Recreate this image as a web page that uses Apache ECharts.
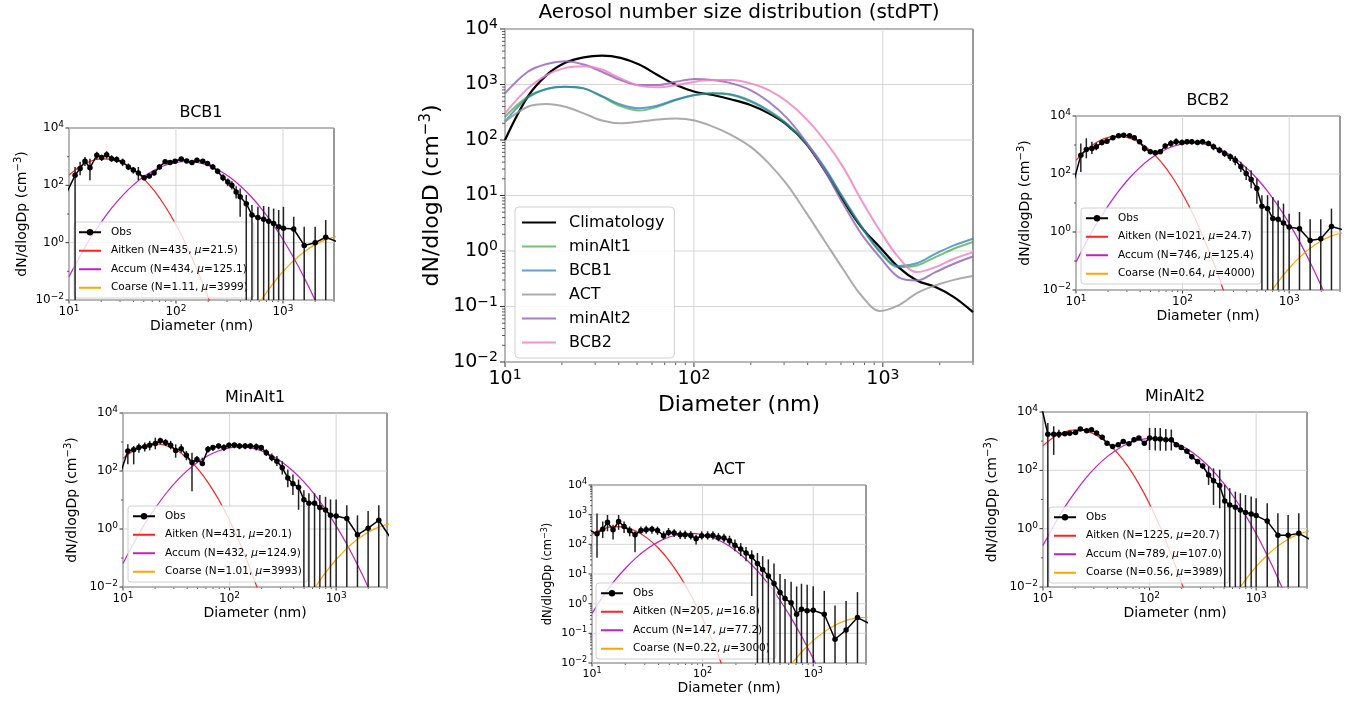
<!DOCTYPE html>
<html>
<head>
<meta charset="utf-8">
<script src="https://cdn.jsdelivr.net/npm/echarts@6.0.0/dist/echarts.min.js"></script>
<style>html,body{margin:0;padding:0;background:#fff;}#c{width:1347px;height:701px;}</style>
</head>
<body>
<div id="c"></div>
<script>
// ---------------- DATA ----------------
// Centre panel: fitted size distributions (diameter in nm, dN/dlogD in cm^-3)
const CENTER_D = [10, 13.2, 16.6, 20.8, 26.1, 32.6, 40.9, 51.3, 64.2, 80.5, 101, 126, 158, 199, 249, 312, 391, 490, 614, 769, 964, 1208, 1514, 1897, 2377, 3000];
const C_CLIMATOLOGY = [100, 603, 1479, 2455, 3090, 3311, 3020, 2291, 1479, 977, 741, 646, 537, 427, 302, 186, 87.1, 28.8, 8.32, 2.69, 1.17, 0.513, 0.295, 0.224, 0.148, 0.0794];
const C_MINALT1 = [263, 603, 832, 912, 851, 603, 407, 339, 398, 525, 646, 692, 646, 490, 324, 186, 87.1, 30.9, 8.91, 2.69, 0.955, 0.513, 0.550, 0.776, 1.10, 1.45];
const C_BCB1 = [214, 575, 832, 912, 851, 617, 437, 372, 417, 537, 646, 692, 661, 513, 339, 195, 91.2, 32.4, 9.33, 2.82, 1.0, 0.537, 0.603, 0.891, 1.26, 1.66];
const C_ACT = [214, 398, 447, 398, 302, 224, 200, 214, 234, 245, 224, 174, 123, 75.9, 38.0, 15.5, 5.01, 1.55, 0.479, 0.158, 0.0832, 0.105, 0.174, 0.240, 0.302, 0.355];
const C_MINALT2 = [692, 1698, 2344, 2630, 2291, 1698, 1202, 977, 977, 1122, 1259, 1202, 1047, 794, 490, 245, 93.3, 28.8, 7.24, 2.04, 0.776, 0.339, 0.295, 0.417, 0.589, 0.794];
const C_BCB2 = [302, 851, 1479, 1995, 2138, 1862, 1288, 955, 891, 977, 1122, 1202, 1202, 1047, 794, 490, 245, 100, 33.1, 8.32, 2.34, 0.776, 0.417, 0.513, 0.724, 0.955];
const CENTER_NAMES = ['Climatology', 'minAlt1', 'BCB1', 'ACT', 'minAlt2', 'BCB2'];

// Mode fits (diameter grid for fitted curves)
const FIT_D = [10, 12.6, 15.8, 20, 25.1, 31.6, 39.8, 50.1, 63.1, 79.4, 100, 126, 158, 200, 251, 316, 398, 501, 631, 794, 1000, 1259, 1585, 1995, 2512, 3162];
const COARSE_D = [398, 501, 631, 794, 1000, 1259, 1585, 1995, 2512, 3162];

// BCB1
const BCB1_OBS_D = [9.5, 11.4, 12.7, 14.1, 15.7, 18.2, 20.2, 22.5, 25, 27.9, 31.7, 35.9, 39.9, 44.5, 50.4, 56.3, 62.4, 70, 79.2, 88, 98, 112, 126, 141, 157, 178, 197, 221, 245, 275, 305, 333, 365, 398, 454, 513, 583, 660, 735, 818, 912, 1010, 1260, 1580, 2000, 2510, 3160];
const BCB1_OBS = [55, 224, 390, 690, 410, 1120, 930, 1170, 850, 790, 650, 440, 340, 270, 185, 210, 270, 440, 660, 620, 690, 830, 700, 620, 750, 690, 580, 440, 310, 185, 131, 100, 59, 40, 23, 9.2, 7.6, 6.6, 5.6, 4.7, 3.6, 3.2, 3.0, 0.8, 1.0, 1.55, 1.1];
const BCB1_HI = [null, 437, 661, 977, 851, 1479, 1175, 1549, 1122, 1023, 851, 575, 437, 437, 224, 257, 339, 550, 794, 759, 832, 977, 832, 759, 912, 832, 692, 550, 389, 245, 174, 138, 93, 78, 46, 20.4, 17.8, 19, 17.8, 15.5, 13.8, 17.8, 8.0, 3.6, 3.6, 6.2, null];
const BCB1_LO = [null, 0, 224, 468, 151, 794, 708, 851, 661, 603, 468, 339, 257, 151, 151, 174, 224, 355, 550, 525, 575, 692, 603, 513, 617, 575, 479, 355, 245, 138, 93, 72, 35, 8, 0, 0, 0, 0, 0, 0, 0, 0, 0, 0, 0, 0, null];
const BCB1_AITKEN = [229, 447, 689, 838, 802, 605, 361, 169, 62.7, 18.2, 4.2, 0.76, 0.109, 0.0123, 0.0011, 7.6e-5];
const BCB1_ACCUM = [0.0652, 0.326, 1.40, 5.14, 16.2, 43.9, 102, 202, 345, 504, 632, 679, 627, 494, 335, 195, 97, 41.5, 15.2, 4.78, 1.29, 0.297, 0.0589, 0.0100, 0.00146, 1.8e-4];
const BCB1_COARSE = [5.8e-4, 2.64e-3, 0.0103, 0.0344, 0.0975, 0.236, 0.486, 0.853, 1.28, 1.63];
const BCB1_LABELS = ['Aitken (N=435, μ=21.5)', 'Accum (N=434, μ=125.1)', 'Coarse (N=1.11, μ=3999)'];

// BCB2
const BCB2_OBS_D = [8.9, 11.1, 12.5, 14.1, 15.5, 17.5, 19.5, 22.2, 25.1, 28, 31.8, 35.2, 39.5, 44, 49.8, 55.5, 61.7, 68.7, 77.6, 87, 98.6, 110, 122, 138, 154, 175, 195, 222, 248, 280, 312, 352, 395, 440, 498, 555, 627, 703, 788, 885, 1000, 1250, 1574, 1980, 2495, 3160];
const BCB2_OBS = [22, 447, 700, 760, 870, 1230, 1350, 1780, 2090, 2190, 2090, 1780, 1290, 760, 590, 540, 590, 920, 1120, 1290, 1230, 1290, 1290, 1230, 1290, 1120, 870, 660, 510, 390, 300, 178, 105, 65, 31.6, 7.8, 6.5, 2.9, 2.75, 2.04, 1.48, 1.29, 0.51, 0.59, 1.55, 1.2];
const BCB2_HI = [null, 1122, 1698, 1288, 1202, 1549, 1698, 2188, 2512, 2630, 2512, 2138, 1549, 1000, 708, 631, 708, 1122, 1479, 1698, 1549, 1585, 1585, 1514, 1585, 1413, 1122, 871, 661, 513, 417, 263, 178, 135, 69, 18.6, 18.6, 16.2, 12.3, 9.5, 4.3, 4.9, 2.75, 2.75, 6.4, null];
const BCB2_LO = [null, 117, 347, 490, 661, 977, 1122, 1479, 1778, 1820, 1738, 1479, 1072, 589, 490, 447, 490, 741, 871, 1000, 977, 1047, 1047, 1000, 1047, 912, 661, 513, 389, 282, 200, 117, 62, 32, 9.5, 0, 0, 0, 0, 0, 0, 0, 0, 0, 0, null];
const BCB2_AITKEN = [296, 697, 1279, 1828, 2037, 1766, 1191, 627, 257, 82, 20.4, 3.94, 0.596, 0.0698, 0.00638, 4.5e-4];
const BCB2_ACCUM = [0.0918, 0.476, 2.11, 7.98, 25.8, 71.3, 169, 340, 588, 867, 1094, 1180, 1089, 857, 577, 332, 163, 68.7, 24.7, 7.59, 1.99, 0.447, 0.0857, 0.0141, 0.00197, 2.4e-4];
const BCB2_COARSE = [3.3e-4, 0.00152, 0.00596, 0.0198, 0.0562, 0.136, 0.281, 0.492, 0.736, 0.94];
const BCB2_LABELS = ['Aitken (N=1021, μ=24.7)', 'Accum (N=746, μ=125.4)', 'Coarse (N=0.64, μ=4000)'];

// MinAlt1
const MINALT1_OBS_D = [8.9, 11.1, 12.6, 14.1, 16, 17.8, 20.1, 22.4, 25.1, 28, 31.2, 35.2, 39.3, 44.4, 49.4, 55.5, 62.7, 69.8, 78.9, 88.5, 98.6, 111, 124, 140, 157, 178, 198, 221, 249, 278, 312, 352, 393, 444, 498, 555, 627, 703, 795, 885, 1000, 1259, 1585, 1995, 2512, 3162];
const MINALT1_OBS = [42, 490, 537, 646, 690, 776, 890, 1100, 955, 776, 513, 590, 347, 195, 251, 182, 562, 646, 724, 646, 776, 794, 724, 724, 724, 690, 646, 427, 288, 219, 129, 57.5, 36, 27.6, 10.3, 7.8, 7.8, 5.5, 4.5, 3.0, 2.8, 2.3, 0.63, 1.07, 2.0, 0.56];
const MINALT1_HI = [null, 832, 724, 891, 955, 1096, 1413, 1413, 1259, 1096, 832, 832, 490, 427, 331, 288, 724, 794, 891, 832, 955, 955, 912, 912, 912, 891, 794, 562, 398, 331, 219, 112, 76, 51, 21.9, 17, 17, 14.8, 12.9, 10.5, 10.5, 6.6, 2.95, 4.2, 6.6, null];
const MINALT1_LO = [null, 170, 170, 427, 468, 513, 562, 832, 724, 562, 288, 427, 234, 20, 195, 148, 427, 490, 562, 490, 603, 603, 562, 562, 562, 513, 490, 331, 219, 148, 76, 27.5, 15, 4.6, 0, 0, 0, 0, 0, 0, 0, 0, 0, 0, 0, null];
const MINALT1_AITKEN = [273, 513, 752, 859, 764, 528, 285, 120, 39.2, 10, 1.98, 0.306, 0.0369, 0.00346, 2.5e-4];
const MINALT1_ACCUM = [0.0649, 0.324, 1.39, 5.11, 16.1, 43.7, 101, 201, 343, 501, 629, 676, 624, 492, 333, 194, 96.5, 41.3, 15.1, 4.76, 1.28, 0.296, 0.0586, 0.00995, 0.00145, 1.8e-4];
const MINALT1_COARSE = [5.3e-4, 0.0024, 0.0094, 0.0313, 0.0887, 0.215, 0.442, 0.776, 1.165, 1.48];
const MINALT1_LABELS = ['Aitken (N=431, μ=20.1)', 'Accum (N=432, μ=124.9)', 'Coarse (N=1.01, μ=3993)'];

// ACT
const ACT_OBS_D = [8.9, 11.1, 12.5, 13.8, 15.5, 17.4, 19.5, 21.9, 24.5, 27.7, 30.9, 34.8, 39.1, 44.4, 49.2, 55.3, 62.7, 69.5, 78.2, 87.3, 98.2, 111, 124, 139, 156, 175, 196, 221, 247, 278, 313, 349, 393, 442, 501, 556, 631, 708, 783, 881, 1000, 1259, 1574, 1982, 2512, 3162];
const ACT_OBS = [330, 229, 324, 550, 309, 590, 398, 288, 209, 295, 309, 324, 295, 195, 251, 240, 209, 209, 200, 155, 195, 195, 200, 170, 162, 132, 93, 69, 51, 38, 22.4, 14.1, 8.5, 4.8, 2.4, 1.48, 1.07, 0.44, 0.65, 0.58, 0.60, 0.44, 0.063, 0.13, 0.34, 0.22];
const ACT_HI = [null, 1100, 589, 977, 457, 977, 589, 398, 275, 398, 427, 427, 398, 275, 355, 324, 295, 295, 275, 209, 275, 275, 275, 240, 229, 195, 145, 110, 81, 63, 51, 40, 31, 22.4, 10, 6.8, 5.5, 3.8, 4.7, 4.3, 3.9, 2.7, 0.87, 1.23, 2.45, null];
const ACT_LO = [null, 35, 162, 275, 145, 309, 240, 186, 54, 229, 229, 229, 209, 145, 186, 178, 151, 151, 145, 98, 145, 145, 145, 126, 117, 91, 59, 40, 27, 1.8, 0, 0, 0, 0, 0, 0, 0, 0, 0, 0, 0, 0, 0, 0, 0, null];
const ACT_AITKEN = [219, 331, 396, 373, 277, 162, 75, 27.2, 7.82, 1.77, 0.315, 0.0443, 0.0049, 4.3e-4];
const ACT_ACCUM = [0.469, 1.75, 5.61, 15.3, 35.7, 71.1, 121, 176, 219, 233, 211, 163, 108, 61.2, 29.6, 12.2, 4.31, 1.30, 0.333, 0.0735, 0.0138, 0.00221, 3.0e-4];
const ACT_COARSE = [7.5e-4, 0.0028, 0.00897, 0.0244, 0.0569, 0.112, 0.190, 0.273, 0.334, 0.349];
const ACT_LABELS = ['Aitken (N=205, μ=16.8)', 'Accum (N=147, μ=77.2)', 'Coarse (N=0.22, μ=3000)'];

// MinAlt2
const MINALT2_OBS_D = [8.9, 11.1, 12.6, 14.1, 16, 17.8, 20.2, 22.4, 25.7, 28.5, 31.8, 35.9, 39.9, 45, 50.8, 56.6, 64.1, 71.5, 79.4, 89.3, 100, 113, 126, 142, 160, 178, 198, 224, 249, 282, 315, 358, 398, 455, 507, 565, 638, 711, 794, 898, 1000, 1270, 1600, 1995, 2512, 3162];
const MINALT2_OBS = [60000, 1740, 1740, 1740, 1780, 1860, 2000, 2630, 2290, 2450, 1900, 1350, 850, 660, 760, 977, 813, 1120, 1290, 850, 1290, 1200, 1175, 1120, 1120, 760, 603, 447, 295, 200, 141, 69, 43.6, 30.2, 8.9, 6.5, 5.4, 4.4, 3.6, 3.2, 2.8, 1.82, 0.60, 0.60, 0.69, 0.44];
const MINALT2_HI = [null, 4170, 3236, 2450, 2100, 2150, 2300, 3000, 2650, 2800, 2200, 1600, 1000, 780, 900, 1150, 950, 1300, 1500, 1000, 2818, 2818, 2818, 2600, 2500, 900, 720, 540, 360, 245, 175, 135, 117, 105, 31.6, 24.5, 18.6, 16.3, 14.3, 12.6, 11, 7.4, 3.4, 2.95, 3.4, null];
const MINALT2_LO = [null, 0, 339, 1290, 1500, 1600, 1700, 2300, 1950, 2100, 1600, 1130, 720, 560, 640, 820, 690, 950, 1100, 720, 500, 480, 470, 470, 480, 640, 500, 370, 240, 160, 110, 31.6, 6.5, 5, 0, 0, 0, 0, 0, 0, 0, 0, 0, 0, 0, null];
const MINALT2_AITKEN = [702, 1365, 2065, 2438, 2239, 1600, 891, 387, 131, 34.4, 7.06, 1.13, 0.14, 0.0136, 0.00102, 6e-5];
const MINALT2_ACCUM = [0.264, 1.26, 5.16, 17.9, 53.2, 134, 289, 530, 828, 1102, 1250, 1208, 995, 700, 419, 213, 92.7, 34.4, 10.8, 2.92, 0.668, 0.130, 0.0217, 0.00308, 3.7e-4];
const MINALT2_COARSE = [3e-4, 0.00135, 0.00527, 0.0175, 0.0497, 0.12, 0.247, 0.433, 0.647, 0.824];
const MINALT2_LABELS = ['Aitken (N=1225, μ=20.7)', 'Accum (N=789, μ=107.0)', 'Coarse (N=0.56, μ=3989)'];

// ---------------- BUILD ----------------
const FONT = 'DejaVu Sans';
function pairs(xs, ys) {
  const out = [];
  const n = Math.min(xs.length, ys.length);
  for (let i = 0; i < n; i++) if (ys[i] != null) out.push([xs[i], ys[i]]);
  return out;
}
function supTxt(e) { return e < 0 ? '\u2212' + (-e) : '' + e; }
function powFormatter(step) {
  return function (v) {
    const l = Math.log10(v), e = Math.round(l);
    if (Math.abs(l - e) > 1e-6) return '';
    if (((e % step) + step) % step !== 0) return '';
    return '{b|10}{s|' + supTxt(e) + '}';
  };
}
function richFor(size) {
  return {
    b: { fontSize: size, fontFamily: FONT, color: '#000', lineHeight: size + 4 },
    s: { fontSize: Math.round(size * 0.72), fontFamily: FONT, color: '#000', verticalAlign: 'top', lineHeight: Math.round(size * 0.8) }
  };
}
function line(x1, y1, x2, y2, c, w) {
  return { type: 'line', shape: { x1: x1, y1: y1, x2: x2, y2: y2 }, style: { stroke: c, lineWidth: w } };
}
// Axis decorations: gridlines + ticks (matplotlib-like log ticks)
function decoData(yStep, yMinorSubs) {
  const d = [];
  [10, 100, 1000].forEach(v => d.push([v, 1, 1]));
  for (let e = 1; e <= 3; e++) for (let m = 2; m <= 9; m++) { const v = m * Math.pow(10, e); if (v <= 3000) d.push([v, 1, 2]); }
  for (let e = -2; e <= 4; e++) {
    const v = Math.pow(10, e);
    if (((e % yStep) + yStep) % yStep === 0) d.push([10, v, 3]); else d.push([10, v, 4]);
    if (yMinorSubs && e < 4) for (let m = 2; m <= 9; m++) d.push([10, m * v, 4]);
  }
  return d;
}
function decoRender(majLen, minLen) {
  return function (params, api) {
    const cs = params.coordSys;
    const L = cs.x, T = cs.y, R = cs.x + cs.width, B = cs.y + cs.height;
    const f = api.value(2);
    const p = api.coord([api.value(0), api.value(1)]);
    const ch = [];
    if (f === 1) { ch.push(line(p[0], T, p[0], B, '#d6d6d6', 1)); ch.push(line(p[0], B, p[0], B + majLen, '#333', 1)); }
    else if (f === 2) { ch.push(line(p[0], B, p[0], B + minLen, '#333', 0.8)); }
    else if (f === 3) { ch.push(line(L, p[1], R, p[1], '#d6d6d6', 1)); ch.push(line(L - majLen, p[1], L, p[1], '#333', 1)); }
    else { ch.push(line(L - minLen, p[1], L, p[1], '#333', 0.8)); }
    return { type: 'group', children: ch };
  };
}
function errRender(params, api) {
  const cs = params.coordSys;
  const x = api.value(0), lo = api.value(1), hi = api.value(2);
  const pt = api.coord([x, hi]);
  const xx = pt[0];
  if (xx < cs.x - 0.5 || xx > cs.x + cs.width + 0.5) return null;
  let yTop = Math.max(pt[1], cs.y);
  let yBot = lo > 0 ? api.coord([x, lo])[1] : cs.y + cs.height;
  yBot = Math.min(yBot, cs.y + cs.height);
  if (yBot <= yTop) return null;
  return line(xx, yTop, xx, yBot, '#222', 1.5);
}

const option = {
  animation: false, backgroundColor: '#fff', textStyle: { fontFamily: FONT },
  title: [], grid: [], xAxis: [], yAxis: [], series: [], legend: []
};

function addAxes(gi, cfg) {
  option.grid.push({ left: cfg.left, top: cfg.top, width: cfg.width, height: cfg.height, show: true, borderColor: '#333', borderWidth: 1, backgroundColor: 'transparent', containLabel: false });
  option.xAxis.push({
    type: 'log', logBase: 10, min: 10, max: 3000, gridIndex: gi,
    axisLine: { show: false }, axisTick: { show: false }, splitLine: { show: false }, minorTick: { show: false },
    axisLabel: { formatter: powFormatter(1), rich: richFor(cfg.tickFont), margin: cfg.xLabelMargin, color: '#000' },
    name: 'Diameter (nm)', nameLocation: 'middle', nameGap: cfg.xNameGap,
    nameTextStyle: { fontSize: cfg.labelFont, fontFamily: FONT, color: '#000' }
  });
  option.yAxis.push({
    type: 'log', logBase: 10, min: 0.01, max: 10000, gridIndex: gi,
    axisLine: { show: false }, axisTick: { show: false }, splitLine: { show: false }, minorTick: { show: false },
    axisLabel: { formatter: powFormatter(cfg.yStep), rich: richFor(cfg.tickFont), margin: cfg.yLabelMargin, color: '#000' },
    name: cfg.yName, nameLocation: 'middle', nameGap: cfg.yNameGap,
    nameTextStyle: { fontSize: cfg.yLabelFont, fontFamily: FONT, color: '#000', lineHeight: cfg.yLabelFont + 4,
      rich: { s: { fontSize: Math.round(cfg.yLabelFont * 0.7), fontFamily: FONT, color: '#000', verticalAlign: 'top', lineHeight: Math.round(cfg.yLabelFont * 0.75) } } }
  });
  option.series.push({
    type: 'custom', xAxisIndex: gi, yAxisIndex: gi, silent: true, z: 1,
    data: decoData(cfg.yStep, cfg.yMinorSubs), encode: { x: 0, y: 1 },
    renderItem: decoRender(cfg.majLen, cfg.minLen)
  });
  option.title.push({ text: cfg.title, left: cfg.titleX, top: cfg.titleY, textAlign: 'center', padding: 0,
    textStyle: { fontSize: cfg.titleFont, fontWeight: 'normal', fontFamily: FONT, color: '#000' } });
}

// ---- centre panel ----
const centerCfg = { left: 505, top: 29, width: 468, height: 333, tickFont: 19, labelFont: 22, yLabelFont: 22, yStep: 1, yMinorSubs: true,
  xLabelMargin: 6, yLabelMargin: 7, xNameGap: 32, yNameGap: 60, majLen: 5, minLen: 3,
  yName: 'dN/dlogD (cm{s|\u22123})', title: 'Aerosol number size distribution (stdPT)', titleX: 739, titleY: 3, titleFont: 20 };
addAxes(0, centerCfg);
const CENTER_SERIES = [C_CLIMATOLOGY, C_MINALT1, C_BCB1, C_ACT, C_MINALT2, C_BCB2];
const CENTER_COLORS = ['#000000', 'rgba(44,160,44,0.65)', 'rgba(31,119,180,0.7)', 'rgba(150,150,150,0.8)', 'rgba(148,103,189,0.85)', 'rgba(240,130,200,0.85)'];
CENTER_SERIES.forEach((arr, k) => {
  option.series.push({
    type: 'line', name: CENTER_NAMES[k], xAxisIndex: 0, yAxisIndex: 0, data: pairs(CENTER_D, arr),
    symbol: 'none', smooth: 0.35, z: 3 + k, clip: true,
    lineStyle: { color: CENTER_COLORS[k], width: k === 0 ? 2.2 : 2 }, itemStyle: { color: CENTER_COLORS[k] }
  });
});
option.legend.push({
  data: CENTER_NAMES.map(n => ({ name: n, itemStyle: { opacity: 0 } })), orient: 'vertical', left: 515, top: 207, itemWidth: 34, itemHeight: 12, itemGap: 5,
  padding: [6, 10, 6, 6], backgroundColor: 'rgba(255,255,255,0.85)', borderColor: '#d0d0d0', borderWidth: 1, borderRadius: 4,
  textStyle: { fontSize: 16, fontFamily: FONT, color: '#000', lineHeight: 19, padding: [0, 0, 0, 8] }
});

// ---- sub panels ----
const PANELS = [
  { title: 'BCB1', left: 69, top: 128, width: 265, height: 172, titleX: 201, titleY: 105, yStep: 2, tickFont: 12, labelFont: 14, yLabelFont: 14,
    yNameGap: 36, xNameGap: 16, legendPos: [74, 222],
    d: BCB1_OBS_D, y: BCB1_OBS, lo: BCB1_LO, hi: BCB1_HI, ait: BCB1_AITKEN, acc: BCB1_ACCUM, coa: BCB1_COARSE, labels: BCB1_LABELS },
  { title: 'BCB2', left: 1076, top: 116, width: 264, height: 174, titleX: 1208, titleY: 93, yStep: 2, tickFont: 12, labelFont: 14, yLabelFont: 14,
    yNameGap: 42, xNameGap: 16, legendPos: [1081, 208],
    d: BCB2_OBS_D, y: BCB2_OBS, lo: BCB2_LO, hi: BCB2_HI, ait: BCB2_AITKEN, acc: BCB2_ACCUM, coa: BCB2_COARSE, labels: BCB2_LABELS },
  { title: 'MinAlt1', left: 123, top: 413, width: 264, height: 174, titleX: 255, titleY: 390, yStep: 2, tickFont: 12, labelFont: 14, yLabelFont: 14,
    yNameGap: 42, xNameGap: 16, legendPos: [128, 506],
    d: MINALT1_OBS_D, y: MINALT1_OBS, lo: MINALT1_LO, hi: MINALT1_HI, ait: MINALT1_AITKEN, acc: MINALT1_ACCUM, coa: MINALT1_COARSE, labels: MINALT1_LABELS },
  { title: 'ACT', left: 592, top: 485, width: 274, height: 178, titleX: 729, titleY: 462, yStep: 1, yMinorSubs: true, tickFont: 11, labelFont: 14, yLabelFont: 11.5,
    yNameGap: 36, xNameGap: 15, legendPos: [596, 583],
    d: ACT_OBS_D, y: ACT_OBS, lo: ACT_LO, hi: ACT_HI, ait: ACT_AITKEN, acc: ACT_ACCUM, coa: ACT_COARSE, labels: ACT_LABELS },
  { title: 'MinAlt2', left: 1043, top: 412, width: 264, height: 175, titleX: 1175, titleY: 389, yStep: 2, tickFont: 12, labelFont: 14, yLabelFont: 14,
    yNameGap: 42, xNameGap: 16, legendPos: [1049, 507],
    d: MINALT2_OBS_D, y: MINALT2_OBS, lo: MINALT2_LO, hi: MINALT2_HI, ait: MINALT2_AITKEN, acc: MINALT2_ACCUM, coa: MINALT2_COARSE, labels: MINALT2_LABELS }
];
const FIT_COLORS = ['#ff2020', '#c020c0', '#ffa500'];
PANELS.forEach((p, idx) => {
  const gi = idx + 1;
  addAxes(gi, Object.assign({ xLabelMargin: 4, yLabelMargin: 5, majLen: 3.5, minLen: 2, titleFont: 16,
    yName: 'dN/dlogDp (cm{s|\u22123})' }, p));
  // error bars
  const eb = [];
  for (let i = 0; i < p.d.length; i++) if (p.hi[i] != null) eb.push([p.d[i], p.lo[i], p.hi[i]]);
  option.series.push({ type: 'custom', xAxisIndex: gi, yAxisIndex: gi, silent: true, z: 4, data: eb,
    encode: { x: 0, y: 2 }, renderItem: errRender });
  // fits
  const fitData = [pairs(FIT_D, p.ait), pairs(FIT_D, p.acc), pairs(COARSE_D, p.coa)];
  fitData.forEach((fd, k) => {
    option.series.push({ type: 'line', name: p.labels[k], xAxisIndex: gi, yAxisIndex: gi, data: fd, symbol: 'none',
      smooth: 0.3, clip: true, z: 3, lineStyle: { color: FIT_COLORS[k], width: 1.2 }, itemStyle: { color: FIT_COLORS[k] } });
  });
  // observations
  option.series.push({ type: 'line', name: 'Obs', xAxisIndex: gi, yAxisIndex: gi, data: pairs(p.d, p.y),
    symbol: 'circle', symbolSize: 5.5, showAllSymbol: true, clip: true, z: 6,
    lineStyle: { color: '#000', width: 1.5 }, itemStyle: { color: '#000' } });
  option.legend.push({
    data: ['Obs'].concat(p.labels.map(n => ({ name: n, itemStyle: { opacity: 0 } }))), orient: 'vertical', left: p.legendPos[0], top: p.legendPos[1],
    itemWidth: 22, itemHeight: 8, itemGap: 6, padding: [4, 6, 4, 4],
    backgroundColor: 'rgba(255,255,255,0.8)', borderColor: '#d0d0d0', borderWidth: 1, borderRadius: 3,
    formatter: n => n.replace('μ', '{i|μ}'),
    textStyle: { fontSize: 10.5, fontFamily: FONT, color: '#000', lineHeight: 12.5, padding: [0, 0, 0, 5],
      rich: { i: { fontSize: 10.5, fontFamily: FONT, fontStyle: 'italic', color: '#000', lineHeight: 12.5 } } }
  });
});

const chart = echarts.init(document.getElementById('c'), null, { renderer: 'canvas' });
chart.setOption(option);
</script>
</body>
</html>
